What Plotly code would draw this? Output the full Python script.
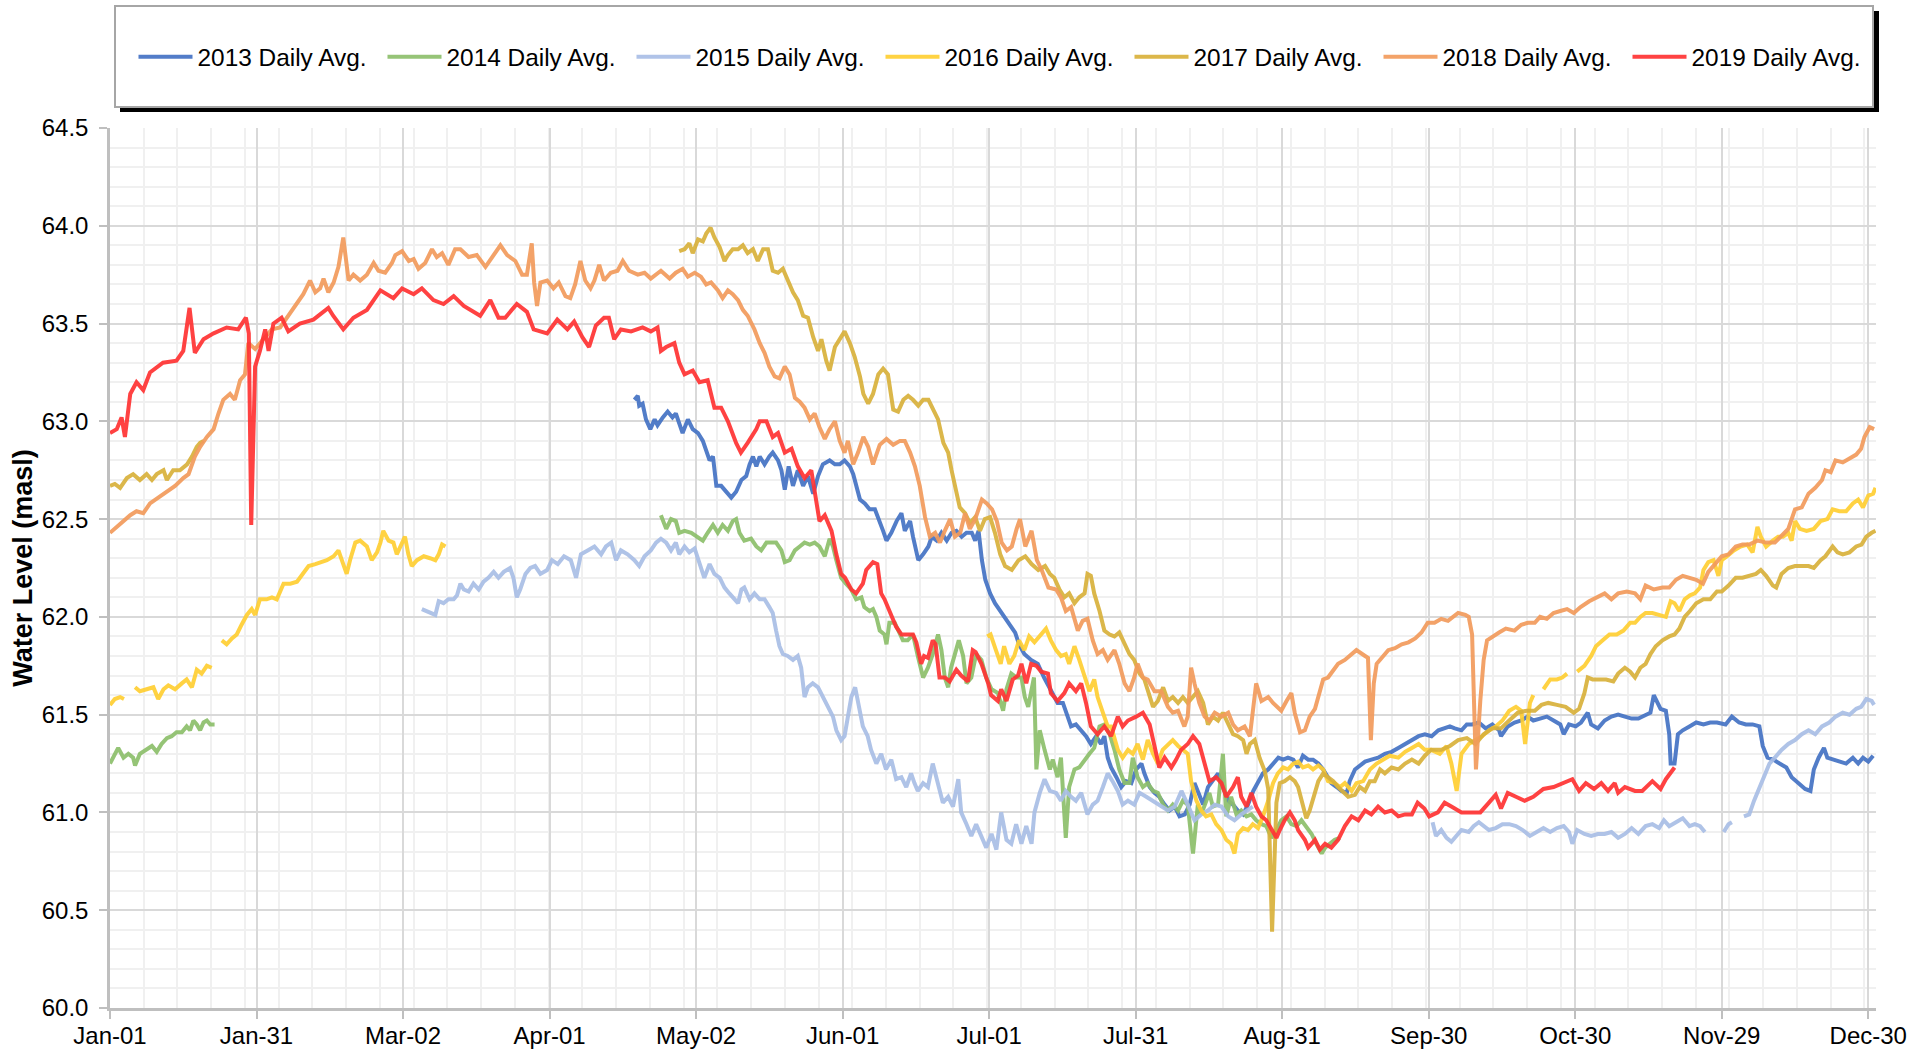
import plotly.graph_objects as go

# ---------------------------------------------------------------
# Daily average water level (masl) by day of year, one series per year.
# Day 0 = Jan-01. A None level marks a gap in the record.
# ---------------------------------------------------------------
YEARS = ["2013", "2014", "2015", "2016", "2017", "2018", "2019"]
COLORS = ["#4472C4", "#8DBF6B", "#A9BEE6", "#FFCF33", "#D9B13B", "#F29B5C", "#FF3333"]

DAY_2013 = [108.8, 109.5, 109.8, 110.5, 111.2, 112.1, 113, 113.6, 114.7, 115.7,
            116.7, 117.4, 118.1, 118.8, 119.9, 120.9, 122, 123, 123.7, 124.4,
            125.1, 125.8, 126.8, 127.8, 128.9, 129.9, 131, 132, 132.7, 133.4,
            134.1, 134.8, 135.8, 136.8, 137.5, 138.6, 139.3, 140, 140.8, 141.7,
            142.7, 143.8, 144.8, 145.9, 146.9, 147.9, 149.3, 150.4, 151.4, 152.4,
            153.5, 154.2, 154.9, 155.6, 156.6, 157.6, 158.7, 159.7, 160.4, 161.1,
            162.1, 163.2, 164.2, 164.9, 166, 166.6, 167.7, 168.7, 169.8, 170.5,
            171.5, 172.5, 173.6, 174.6, 175.6, 176.7, 177.7, 178.8, 179.5, 180.2,
            180.9, 181.6, 182.6, 183.6, 184.7, 185.7, 186.7, 187.8, 188.6, 189.7,
            191.1, 192.5, 193.8, 195.2, 196.6, 197.7, 198.7, 199.4, 200.4, 201.5,
            202.5, 203.5, 204.6, 205.6, 206.3, 207, 207.7, 208.8, 209.8, 210.8,
            211.9, 212.9, 214, 214.6, 215.7, 216.7, 217.7, 218.8, 219.8, 220.9,
            221.9, 223, 224, 225, 225.7, 226.8, 227.8, 228.8, 229.9, 230.9,
            232, 233, 234, 235.1, 236.1, 237.2, 238.2, 239.2, 240.3, 241.3,
            242.4, 243.4, 244.4, 245.5, 246.5, 247.5, 248.6, 249.6, 250.7, 251.7,
            252.7, 253.4, 254.5, 255.5, 256.6, 257.2, 258.3, 259.3, 260.4, 261.7,
            263.1, 264.5, 265.9, 267.3, 268.7, 270.1, 271.5, 272.8, 274.2, 275.6,
            277, 278, 279, 280.4, 281.5, 282.6, 284, 285.4, 286.8, 288.2,
            288.6, 290, 291.4, 292.8, 294.1, 295.3, 296.7, 298.1, 299.5, 300.9,
            301.6, 302.7, 304.1, 305.2, 306.6, 307.3, 308.7, 310.1, 311.5, 312.9,
            314.3, 315.7, 317.1, 318.6, 319.6, 320.3, 321, 321.7, 322.8, 323.5,
            323.8, 324.6, 325.3, 326.3, 327.7, 329.1, 330.6, 332, 333.4, 335.2,
            336.5, 338, 339.4, 340.8, 342.2, 342.9, 343.9, 345.1, 346.4, 347.8,
            348.9, 350.3, 351.7, 352.8, 353.5, 354.5, 355.6, 356.3, 357.4, 358.8,
            360.2, 361.6, 362.7, 363.7, 364.8, 365.8]
LEVEL_2013 = [63.11, 63.13, 63.08, 63.09, 63.01, 62.96, 63.01, 62.98, 63.02, 63.05,
              63.02, 63.04, 62.99, 62.94, 63.01, 62.96, 62.94, 62.90, 62.85, 62.80,
              62.82, 62.67, 62.67, 62.64, 62.61, 62.64, 62.70, 62.72, 62.78, 62.82,
              62.77, 62.82, 62.78, 62.82, 62.84, 62.80, 62.75, 62.65, 62.77, 62.67,
              62.75, 62.67, 62.72, 62.63, 62.72, 62.78, 62.80, 62.78, 62.78, 62.80,
              62.77, 62.73, 62.67, 62.60, 62.58, 62.55, 62.55, 62.49, 62.44, 62.39,
              62.43, 62.49, 62.53, 62.44, 62.49, 62.41, 62.29, 62.32, 62.36, 62.41,
              62.39, 62.43, 62.39, 62.43, 62.44, 62.41, 62.43, 62.43, 62.39, 62.44,
              62.29, 62.19, 62.12, 62.07, 62.03, 62.00, 61.96, 61.92, 61.86, 61.81,
              61.78, 61.76, 61.69, 61.62, 61.56, 61.56, 61.49, 61.44, 61.45, 61.42,
              61.39, 61.35, 61.39, 61.35, 61.39, 61.28, 61.23, 61.18, 61.13, 61.16,
              61.15, 61.22, 61.25, 61.20, 61.13, 61.10, 61.08, 61.04, 61.01, 61.03,
              60.98, 60.99, 61.04, 61.15, 61.11, 61.04, 61.13, 61.16, 61.20, 61.13,
              61.06, 61.04, 61.01, 60.99, 61.04, 61.11, 61.16, 61.20, 61.22, 61.25,
              61.28, 61.27, 61.28, 61.27, 61.23, 61.29, 61.27, 61.27, 61.25, 61.22,
              61.18, 61.15, 61.13, 61.11, 61.10, 61.16, 61.22, 61.24, 61.26, 61.27,
              61.28, 61.30, 61.31, 61.33, 61.35, 61.37, 61.39, 61.40, 61.39, 61.42,
              61.43, 61.44, 61.43, 61.42, 61.45, 61.45, 61.46, 61.43, 61.45, 61.42,
              61.39, 61.44, 61.46, 61.47, 61.49, 61.47, 61.48, 61.49, 61.47, 61.45,
              61.40, 61.45, 61.44, 61.46, 61.51, 61.45, 61.43, 61.47, 61.49, 61.50,
              61.49, 61.48, 61.48, 61.50, 61.51, 61.60, 61.57, 61.53, 61.52, 61.40,
              61.25, 61.25, 61.40, 61.42, 61.44, 61.46, 61.45, 61.46, 61.46, 61.45,
              61.49, 61.46, 61.45, 61.45, 61.44, 61.34, 61.28, 61.27, 61.25, 61.23,
              61.18, 61.15, 61.12, 61.11, 61.22, 61.28, 61.33, 61.28, 61.27, 61.26,
              61.25, 61.28, 61.25, 61.28, 61.26, 61.29]

DAY_2014 = [0, 1, 1.7, 2.8, 3.8, 4.8, 5.2, 6.2, 7.6, 8.7,
            9.7, 10.7, 11.8, 12.8, 13.8, 14.9, 15.9, 16.6, 17.3, 18,
            18.7, 19.4, 20.1, 20.8, 21.7, 60,
            114.3, 115.4, 116.4, 117.4, 118.1, 119.2, 120.6, 122, 123, 124,
            125.1, 126.1, 127.1, 128.2, 129.2, 129.9, 130.6, 131.6, 133, 134.1,
            135.1, 136.2, 137.2, 138.2, 139.3, 140, 141, 142.1, 143.1, 144.1,
            145.2, 146.2, 147.2, 148.3, 149.3, 150, 150.7, 151.7, 152.7, 153.8,
            154.8, 155.9, 156.5, 157.6, 158.3, 159, 159.7, 160.7, 161.1, 161.7,
            162.8, 163.5, 164.5, 165.5, 166.6, 167.6, 168.7, 169.7, 170.7, 171.8,
            172.5, 173.2, 173.9, 174.5, 175.4, 176.1, 177, 177.7, 178.7, 179.7,
            180.8, 181.8, 182.9, 184.2, 185.3, 186, 187, 188.1, 189.1, 189.8,
            190.5, 191.2, 191.7, 192.2, 192.9, 193.9, 195, 195.6, 196.6, 197.3,
            198.3, 199, 200.1, 201.1, 202.2, 203.2, 204.2, 205.3, 206.3, 207.4,
            208.4, 209.4, 210.5, 211.5, 212.2, 213.2, 214.3, 215.3, 216.4, 217.4,
            218.5, 219.5, 220.5, 221.6, 222.6, 223.6, 224.7, 225.7, 226.4, 227.1,
            228.1, 228.8, 229.9, 230.9, 231.6, 232.6, 233.7, 234.7, 235.8, 236.8,
            237.8, 238.9, 239.9, 241, 242, 243, 244.1, 245.1, 246.2, 247.2,
            248.2, 249.3, 250.3, 251.4, 252.1, 253.1, 254.1, 255.2]
LEVEL_2014 = [61.25, 61.30, 61.33, 61.28, 61.30, 61.28, 61.24, 61.30, 61.32, 61.34,
              61.31, 61.35, 61.38, 61.39, 61.41, 61.41, 61.44, 61.42, 61.47, 61.45,
              61.42, 61.46, 61.47, 61.45, 61.45, None,
              62.52, 62.45, 62.50, 62.49, 62.43, 62.44, 62.43, 62.41, 62.39, 62.43,
              62.47, 62.43, 62.47, 62.44, 62.49, 62.50, 62.43, 62.39, 62.40, 62.36,
              62.34, 62.38, 62.38, 62.38, 62.34, 62.28, 62.29, 62.34, 62.36, 62.38,
              62.37, 62.38, 62.36, 62.31, 62.40, 62.36, 62.29, 62.20, 62.17, 62.14,
              62.09, 62.10, 62.05, 62.03, 62.04, 62.00, 61.93, 61.91, 61.86, 61.97,
              61.97, 61.93, 61.88, 61.88, 61.91, 61.80, 61.69, 61.74, 61.81, 61.91,
              61.83, 61.69, 61.64, 61.74, 61.83, 61.88, 61.80, 61.66, 61.69, 61.81,
              61.78, 61.69, 61.63, 61.61, 61.52, 61.63, 61.71, 61.69, 61.69, 61.59,
              61.54, 61.63, 61.69, 61.22, 61.42, 61.32, 61.22, 61.27, 61.18, 61.28,
              60.87, 61.13, 61.22, 61.23, 61.27, 61.30, 61.33, 61.44, 61.45, 61.40,
              61.32, 61.22, 61.15, 61.15, 61.28, 61.18, 61.13, 61.15, 61.11, 61.10,
              61.04, 61.01, 61.04, 61.01, 61.06, 61.04, 60.79, 61.04, 60.99, 61.03,
              61.10, 61.03, 61.04, 61.30, 60.98, 61.08, 60.99, 61.01, 60.98, 60.99,
              60.96, 60.94, 60.93, 60.87, 60.91, 60.96, 60.98, 60.94, 60.93, 60.96,
              60.93, 60.89, 60.84, 60.79, 60.82, 60.84, 60.86, 60.87]

DAY_2015 = [64.7, 65.7, 66.8, 67.5, 68.2, 69.2, 70.2, 71.3, 72, 72.7,
            73.4, 74.4, 75.4, 76.5, 77.5, 78.5, 79.6, 80.6, 81.7, 83,
            83.7, 84.4, 85.1, 86.2, 87.2, 88.2, 89.3, 90.7, 91.7, 92.9,
            94.2, 95.6, 96.7, 97.7, 99.1, 100.5, 101.9, 102.9, 104, 105,
            106, 107.4, 108.8, 109.8, 110.9, 112.2, 113.3, 114.3, 115.4, 116.4,
            117.4, 118.1, 119.2, 120.2, 121.3, 122.3, 123.3, 124.4, 125.4, 126.5,
            127.5, 128.5, 129.6, 130.3, 131, 131.6, 132.7, 133.7, 134.8, 135.8,
            136.8, 137.5, 138.2, 138.9, 139.6, 140.6, 141.7, 142.7, 143.4, 144.1,
            144.8, 145.8, 146.9, 147.9, 148.9, 150, 150.7, 151.7, 152.4, 153.1,
            153.8, 154.6, 155.5, 156.2, 157.2, 157.9, 159, 160, 161, 162.1,
            163.1, 164.2, 165.2, 166.2, 166.9, 167.6, 168.7, 169.7, 170.7, 171.8,
            172.8, 173.9, 174.9, 176, 176.6, 177.7, 178.7, 179.7, 180.8, 181.8,
            182.9, 183.9, 184.9, 186, 187, 188, 189.1, 190.1, 191.2, 191.8,
            192.9, 193.9, 195, 196.3, 197.3, 198.3, 199.4, 200.4, 201.5, 202.8,
            203.9, 204.9, 206, 207, 208, 209.1, 210.1, 211.2, 212.5, 213.6,
            215, 217.4, 219.5, 220.9, 222.3, 223.6, 225, 226.4, 227.8, 229.2,
            230.6, 232, 233.3, 234.7, 236.1, 237.1, 255,
            274.4, 275.1, 276.2, 277.3, 278.3, 279.4, 280.4, 281.9, 282.9, 284,
            285, 286.1, 287.5, 288.9, 290.3, 291.7, 293.1, 294.6, 296, 297.4,
            298.8, 300.2, 301.6, 302.7, 303.4, 304.4, 305.9, 307.3, 308.7, 310.1,
            311.5, 312.9, 314.3, 315.7, 317.1, 318.6, 320, 321.4, 322.4, 323.5,
            324.9, 326.3, 327.7, 328.8, 329.9, 330.9, 332.8,
            334.8, 335.8, 336.5, 337.8,
            339, 340.1, 341.1, 342.2, 343.3, 344.3, 345.4, 346.8, 348.2, 349.6,
            351, 352.4, 353.8, 355.2, 356.7, 358, 359.5, 360.9, 362.3, 363.3,
            364.4, 365.5, 366]
LEVEL_2015 = [62.04, 62.03, 62.02, 62.01, 62.08, 62.07, 62.09, 62.09, 62.11, 62.17,
              62.14, 62.13, 62.17, 62.14, 62.18, 62.20, 62.23, 62.20, 62.23, 62.25,
              62.20, 62.10, 62.14, 62.22, 62.25, 62.26, 62.22, 62.24, 62.29, 62.27,
              62.31, 62.29, 62.20, 62.32, 62.34, 62.36, 62.32, 62.36, 62.38, 62.29,
              62.34, 62.32, 62.29, 62.26, 62.31, 62.34, 62.38, 62.40, 62.38, 62.34,
              62.38, 62.32, 62.36, 62.33, 62.35, 62.27, 62.20, 62.27, 62.22, 62.20,
              62.15, 62.12, 62.09, 62.07, 62.14, 62.15, 62.09, 62.12, 62.09, 62.09,
              62.05, 62.02, 61.93, 61.85, 61.81, 61.80, 61.78, 61.80, 61.74, 61.59,
              61.64, 61.66, 61.64, 61.59, 61.54, 61.49, 61.42, 61.37, 61.39, 61.49,
              61.59, 61.64, 61.52, 61.44, 61.39, 61.32, 61.25, 61.30, 61.22, 61.27,
              61.17, 61.18, 61.13, 61.20, 61.15, 61.11, 61.15, 61.13, 61.25, 61.15,
              61.05, 61.08, 61.03, 61.17, 61.00, 60.94, 60.88, 60.94, 60.88, 60.82,
              60.89, 60.81, 61.00, 60.86, 60.84, 60.94, 60.84, 60.93, 60.84, 61.00,
              61.10, 61.17, 61.11, 61.10, 61.06, 61.11, 61.08, 61.06, 61.10, 60.99,
              61.04, 61.06, 61.13, 61.20, 61.16, 61.11, 61.04, 61.06, 61.04, 61.10,
              61.08, 61.04, 61.01, 61.03, 61.11, 61.04, 60.96, 60.99, 61.01, 61.04,
              61.03, 60.98, 60.96, 60.99, 61.01, 61.03, None,
              60.95, 60.88, 60.91, 60.87, 60.85, 60.88, 60.91, 60.90, 60.93, 60.95,
              60.93, 60.91, 60.92, 60.94, 60.94, 60.93, 60.91, 60.88, 60.90, 60.92,
              60.90, 60.92, 60.93, 60.90, 60.84, 60.91, 60.89, 60.88, 60.89, 60.89,
              60.90, 60.87, 60.89, 60.92, 60.89, 60.93, 60.94, 60.92, 60.96, 60.93,
              60.95, 60.97, 60.93, 60.94, 60.93, 60.90, None,
              60.90, 60.94, 60.95, None,
              60.98, 60.99, 61.06, 61.13, 61.20, 61.25, 61.28, 61.32, 61.35, 61.37,
              61.40, 61.42, 61.40, 61.44, 61.46, 61.49, 61.51, 61.50, 61.53, 61.54,
              61.58, 61.57, 61.55]

DAY_2016 = [0, 1, 2.1, 2.9, 4, 5.2, 6.2, 7.6, 9, 10,
            11.1, 12.1, 13.5, 14.9, 15.9, 17, 18, 19, 20.1, 21.1,
            22, 23.2, 24.2, 25.3, 26.3, 27.3, 28.4, 29.4, 30.1, 31.1,
            32.5, 33.6, 34.6, 36, 37.4, 38.8, 40.1, 41.2, 42.6, 43.9,
            45, 46.4, 47.4, 48.1, 49.1, 49.8, 50.9, 51.9, 53.3, 54.3,
            55.4, 56.1, 56.7, 57.8, 58.8, 59.5, 60.6, 61.2, 61.9, 62.6,
            63.7, 65.1, 66.4, 67.5, 68.2, 68.9, 69.6, 120,
            182, 182.7, 183.8, 184.8, 185.5, 186.6, 187.6, 188.6, 189.7, 190.7,
            191.8, 192.8, 194.2, 195.2, 196.3, 197.3, 198.3, 199, 200.1, 201.1,
            202.2, 203.2, 204.2, 204.9, 206, 207, 207.7, 208.4, 209.1, 210.1,
            211.2, 212.2, 213.2, 214.3, 215.3, 216.4, 217.4, 218.4, 219.5, 220.5,
            221.6, 222.6, 223.6, 224.3, 225.4, 226.4, 227.4, 228.5, 229.5, 230.6,
            231.6, 232.6, 233.3, 234, 235.1, 236.1, 237.1, 238.2, 239.2, 240.3,
            241.3, 242.3, 243.4, 244.4, 245.5, 246.5, 247.5, 248.6, 249.6, 250.7,
            251.7, 252.7, 254.1, 255.2, 256.2, 257.6, 258.6, 260, 261.4, 262.8,
            264.2, 265.5, 267.3, 268.7, 270.1, 271.5, 272.8, 274.1, 275.9, 277.3,
            278.3, 279.4, 280.4, 281.9, 283.3, 284.7, 286.1, 287.5, 288.9, 290.3,
            291.7, 292.8, 293.6, 294.6, 295.3, 296.3, 297.4, 298.8, 300.2, 301.3,
            302.3, 303.3, 304.4, 305.9, 307.3, 308.3, 309.7, 311.1, 312.6, 314,
            315.4, 316.4, 317.5, 318.6, 320, 321.4, 322.8, 323.8, 324.6, 325.6,
            326.7, 327.8, 328.8, 329.9, 330.6, 331.6, 332.7, 333.7, 334.4, 335.5,
            336.9, 338.3, 339.7, 340.8, 341.5, 341.8, 342.5, 343.6, 345, 346.1,
            347.1, 348.2, 348.9, 349.6, 350.6, 352, 353.5, 354.9, 356.3, 357.4,
            358.8, 360.2, 361.6, 362.7, 363.7, 364.8, 365.8, 366.3]
LEVEL_2016 = [61.55, 61.58, 61.59, 61.58, None, 61.64, 61.62, 61.63, 61.64, 61.58,
              61.63, 61.65, 61.63, 61.66, 61.68, 61.64, 61.73, 61.71, 61.75, 61.74,
              None, 61.88, 61.86, 61.89, 61.91, 61.96, 62.01, 62.04, 62.01, 62.09,
              62.09, 62.10, 62.09, 62.17, 62.17, 62.18, 62.22, 62.26, 62.27, 62.28,
              62.29, 62.31, 62.34, 62.29, 62.22, 62.29, 62.38, 62.39, 62.36, 62.29,
              62.33, 62.38, 62.44, 62.39, 62.38, 62.32, 62.38, 62.41, 62.32, 62.26,
              62.29, 62.31, 62.30, 62.29, 62.32, 62.37, 62.36, None,
              61.90, 61.91, 61.83, 61.76, 61.85, 61.76, 61.80, 61.88, 61.83, 61.90,
              61.87, 61.90, 61.94, 61.88, 61.83, 61.80, 61.81, 61.76, 61.85, 61.78,
              61.69, 61.62, 61.68, 61.59, 61.51, 61.44, 61.44, 61.37, 61.32, 61.28,
              61.32, 61.30, 61.35, 61.27, 61.37, 61.30, 61.25, 61.32, 61.35, 61.37,
              61.34, 61.32, 61.30, 61.16, 61.06, 61.01, 60.98, 60.99, 60.94, 60.91,
              60.86, 60.84, 60.79, 60.89, 60.92, 60.91, 60.94, 60.92, 60.98, 61.06,
              61.15, 61.20, 61.23, 61.22, 61.25, 61.26, 61.23, 61.24, 61.22, 61.24,
              61.22, 61.16, 61.15, 61.13, 61.15, 61.11, 61.15, 61.16, 61.22, 61.25,
              61.27, 61.29, 61.28, 61.31, 61.33, 61.35, 61.32, 61.32, 61.30, 61.34,
              61.25, 61.11, 61.30, 61.35, 61.37, 61.39, 61.42, 61.44, 61.47, 61.52,
              61.54, 61.52, 61.35, 61.56, 61.60, None, 61.63, 61.68, 61.68, 61.69,
              61.71, None, 61.72, 61.75, 61.80, 61.85, 61.88, 61.91, 61.91, 61.93,
              61.97, 61.97, 62.00, 62.02, 62.02, 62.01, 62.00, 62.08, 62.07, 62.03,
              62.09, 62.11, 62.12, 62.15, 62.24, 62.28, 62.29, 62.21, 62.29, 62.31,
              62.34, 62.36, 62.37, 62.33, 62.43, 62.46, 62.41, 62.36, 62.39, 62.41,
              62.41, 62.43, 62.39, 62.49, 62.45, 62.44, 62.45, 62.49, 62.50, 62.55,
              62.54, 62.54, 62.58, 62.60, 62.56, 62.62, 62.63, 62.66]

DAY_2017 = [0, 1, 2.1, 3.5, 4.8, 6.2, 7.6, 8.7, 9.7, 11.1,
            11.8, 13.1, 14.5, 16, 17, 18, 18.7, 19.4, 60,
            118.1, 119.2, 120.2, 120.9, 122, 123, 123.7, 124.6, 125.4, 126.5,
            127.5, 128.2, 129.2, 130.3, 131.3, 132.3, 133.4, 134.4, 135.5, 136.5,
            137.5, 138.6, 139.6, 140.7, 141.7, 142.7, 143.8, 144.8, 145.9, 146.9,
            147.6, 148.6, 149.3, 150.4, 151.4, 152.4, 153.5, 154.5, 155.6, 156.3,
            157.3, 158.3, 159.4, 160.4, 161.4, 162.5, 163.5, 164.6, 165.6, 166.6,
            167.7, 168.7, 169.8, 170.8, 171.8, 172.9, 173.9, 174.6, 175.3, 176.3,
            177.4, 178.4, 179.5, 180.5, 181.5, 182.6, 183.6, 184.7, 185.7, 187.1,
            188.5, 189.9, 191.2, 192.6, 194, 195, 195.9, 197, 198, 199,
            200.1, 201.1, 202.2, 202.8, 203.5, 204.2, 205.3, 206.3, 207.4, 208.4,
            209.4, 210.5, 211.5, 212.5, 213.6, 214.6, 215.7, 216.4, 217.4, 218.5,
            219.5, 220.5, 221.6, 222.6, 223.6, 224.7, 225.7, 226.8, 227.8, 228.8,
            229.9, 230.9, 232, 233, 234, 235.1, 235.8, 236.5, 237.5, 238.5,
            239.6, 240.3, 241.1, 242, 242.7, 243.7, 244.8, 245.8, 246.5, 247.5,
            248.2, 248.9, 250, 250.7, 251.7, 252.7, 253.8, 254.8, 255.9, 256.9,
            258.3, 259.3, 260.4, 261.4, 262.4, 263.5, 264.5, 265.9, 267.3, 268.7,
            270.1, 271.5, 272.8, 274.1, 276.2, 278, 279.7, 281.5, 283.3, 285,
            286.8, 288.6, 290.3, 292.1, 293.9, 295.6, 297, 298.4, 300.2, 302,
            303.7, 304.8, 305.9, 306.6, 307.6, 309, 310.4, 311.9, 312.9, 314.3,
            315.4, 316.4, 317.5, 318.6, 319.6, 320.7, 322.1, 323.5, 324.6, 325.6,
            326.7, 327.8, 329.1, 330.6, 332, 333.4, 334.4, 335.8, 337.3, 338.7,
            340.1, 341.5, 342.5, 343.6, 345, 345.7, 346.8, 348.2, 349.6, 351,
            352.4, 353.5, 354.9, 355.9, 357.4, 358.4, 359.5, 360.9, 362.3, 363.4,
            364.4, 365.5, 366.3]
LEVEL_2017 = [62.67, 62.68, 62.66, 62.71, 62.73, 62.70, 62.73, 62.70, 62.73, 62.75,
              62.70, 62.75, 62.75, 62.78, 62.82, 62.87, 62.89, 62.90, None,
              63.87, 63.88, 63.91, 63.86, 63.93, 63.92, 63.96, 63.99, 63.94, 63.89,
              63.82, 63.85, 63.88, 63.88, 63.90, 63.86, 63.88, 63.82, 63.88, 63.88,
              63.77, 63.76, 63.78, 63.71, 63.66, 63.62, 63.54, 63.53, 63.43, 63.36,
              63.42, 63.31, 63.26, 63.38, 63.42, 63.46, 63.40, 63.33, 63.23, 63.14,
              63.09, 63.14, 63.24, 63.27, 63.24, 63.06, 63.05, 63.11, 63.13, 63.11,
              63.08, 63.11, 63.11, 63.06, 63.01, 62.89, 62.84, 62.75, 62.67, 62.56,
              62.53, 62.48, 62.51, 62.44, 62.50, 62.51, 62.43, 62.32, 62.26, 62.24,
              62.29, 62.31, 62.27, 62.24, 62.26, 62.22, 62.20, 62.14, 62.10, 62.12,
              62.07, 62.10, 62.12, 62.22, 62.21, 62.12, 62.03, 61.93, 61.91, 61.90,
              61.92, 61.86, 61.81, 61.78, 61.71, 61.68, 61.59, 61.54, 61.57, 61.64,
              61.57, 61.59, 61.56, 61.59, 61.56, 61.59, 61.62, 61.56, 61.45, 61.49,
              61.47, 61.51, 61.45, 61.40, 61.39, 61.37, 61.30, 61.35, 61.37, 61.28,
              61.21, 61.12, 60.39, 61.05, 61.15, 61.16, 61.18, 61.16, 61.13, 61.04,
              60.97, 61.01, 61.10, 61.16, 61.20, 61.18, 61.16, 61.13, 61.10, 61.08,
              61.09, 61.13, 61.11, 61.16, 61.16, 61.22, 61.20, 61.23, 61.22, 61.25,
              61.27, 61.25, 61.29, 61.32, 61.32, 61.34, 61.37, 61.38, 61.35, 61.40,
              61.43, 61.43, 61.47, 61.51, 61.52, 61.52, 61.55, 61.56, 61.55, 61.54,
              61.51, 61.53, 61.61, 61.69, 61.68, 61.68, 61.68, 61.67, 61.71, 61.74,
              61.72, 61.69, 61.74, 61.76, 61.81, 61.85, 61.88, 61.90, 61.91, 61.94,
              62.00, 62.03, 62.07, 62.09, 62.09, 62.13, 62.13, 62.16, 62.20, 62.20,
              62.21, 62.22, 62.24, 62.21, 62.16, 62.15, 62.22, 62.25, 62.26, 62.26,
              62.26, 62.25, 62.29, 62.31, 62.36, 62.33, 62.32, 62.33, 62.36, 62.37,
              62.41, 62.43, 62.44]

DAY_2018 = [0, 1.4, 2.8, 4.2, 5.5, 6.9, 8.3, 10, 11.8, 13.5,
            15.2, 16.3, 17.6, 18.7, 20.1, 21.5, 22.5, 23.5, 24.9, 25.9,
            27, 28, 28.7, 30.1, 31.8, 33.6, 35.3, 37, 38.8, 40.1,
            41.5, 42.6, 43.6, 44.3, 45.3, 46.4, 47.4, 48.4, 49.5, 50.5,
            51.9, 53.3, 54.7, 55.7, 57.1, 58.5, 59.2, 60.6, 62, 63,
            64, 65.4, 66.8, 67.8, 68.9, 70.2, 71.6, 72.7, 74.4, 76.1,
            77.9, 79.6, 81, 82.4, 84.1, 85.5, 86.5, 87.5, 88, 88.6,
            89.3, 90.7, 92, 93.1, 94.5, 95.5, 96.5, 97.6, 98.6, 99.7,
            100.5, 101.5, 102.5, 103.9, 105.3, 106.4, 107.7, 109.5, 110.9, 112.2,
            114.3, 116.1, 117.4, 118.8, 119.9, 121.3, 122.6, 123.7, 124.7, 126.1,
            127.1, 128.2, 129.2, 130.3, 131.3, 132.3, 133.7, 134.8, 135.8, 136.8,
            137.9, 138.9, 140, 141, 142.1, 143.1, 144.1, 145.2, 146.2, 147.2,
            148.3, 149.3, 150.4, 151.4, 152.4, 153.1, 154.2, 155.2, 156.3, 157.3,
            158.3, 159.7, 161.1, 162.5, 163.9, 164.9, 166, 167, 168, 169.1,
            170.1, 171.2, 172.2, 173.2, 174.3, 175.3, 176.4, 177.4, 178.4, 179.5,
            180.9, 181.9, 183, 184, 185, 186.1, 187.1, 188.1, 188.8, 189.9,
            191.2, 192.3, 193.3, 194.7, 196.3, 197.3, 198.3, 199.4, 200.8, 201.8,
            202.8, 203.9, 204.9, 206, 207, 208.4, 209.4, 210.5, 211.5, 212.5,
            213.2, 214.3, 215.3, 216.7, 218.1, 219.5, 220.5, 221.6, 222.9, 223.6,
            224.3, 225, 226, 227.1, 228.1, 229.2, 230.6, 232, 233, 234,
            235.4, 236.5, 237.2, 237.8, 238.9, 240.3, 241.3, 243, 244.1, 245.1,
            245.8, 246.9, 247.9, 248.9, 250, 251, 251.7, 252.7, 253.8, 254.8,
            256.2, 257.6, 258.6, 260.4, 261, 261.6, 262.2, 262.8, 263.8, 265.2,
            266.6, 268, 269.4, 270.8, 272.1, 273.4, 274.8, 276.2, 277.6, 279,
            279.7, 281.2, 281.9, 282.6, 283.4, 284.3, 285, 285.7, 286.8, 288.2,
            289.6, 291.4, 292.8, 294.2, 295.6, 296.7, 298.1, 299.5, 300.9, 302.3,
            303.7, 305.1, 306.9, 308.7, 310.1, 311.5, 312.9, 314.7, 316.4, 317.5,
            318.6, 320.3, 322.1, 323.5, 324.9, 326.3, 327.7, 329.1, 330.5, 331.6,
            333, 334.4, 335.8, 337.3, 338.7, 340.1, 341.8, 343.6, 345.4, 347.1,
            348.2, 349.6, 351, 352.4, 353.8, 355.2, 355.9, 357, 358, 359.5,
            360.9, 362.3, 363.3, 364, 365.1, 366]
LEVEL_2018 = [62.43, 62.46, 62.49, 62.52, 62.54, 62.53, 62.58, 62.61, 62.64, 62.67,
              62.71, 62.73, 62.82, 62.87, 62.92, 62.96, 63.04, 63.11, 63.14, 63.11,
              63.21, 63.24, 63.40, 63.37, 63.42, 63.47, 63.48, 63.54, 63.60, 63.65,
              63.72, 63.66, 63.68, 63.73, 63.66, 63.71, 63.79, 63.94, 63.72, 63.75,
              63.72, 63.75, 63.81, 63.77, 63.76, 63.81, 63.85, 63.87, 63.82, 63.83,
              63.78, 63.81, 63.88, 63.84, 63.86, 63.80, 63.88, 63.88, 63.84, 63.85,
              63.79, 63.85, 63.90, 63.85, 63.82, 63.75, 63.75, 63.91, 63.71, 63.59,
              63.71, 63.72, 63.68, 63.71, 63.64, 63.63, 63.70, 63.82, 63.72, 63.68,
              63.72, 63.80, 63.72, 63.76, 63.77, 63.82, 63.77, 63.75, 63.76, 63.73,
              63.77, 63.73, 63.76, 63.78, 63.74, 63.76, 63.74, 63.70, 63.71, 63.67,
              63.63, 63.67, 63.65, 63.62, 63.57, 63.54, 63.47, 63.40, 63.35, 63.28,
              63.23, 63.22, 63.28, 63.24, 63.12, 63.10, 63.07, 63.01, 63.04, 62.97,
              62.91, 62.96, 63.00, 62.90, 62.84, 62.90, 62.78, 62.84, 62.92, 62.87,
              62.78, 62.88, 62.91, 62.88, 62.90, 62.90, 62.84, 62.77, 62.67, 62.51,
              62.41, 62.43, 62.38, 62.44, 62.50, 62.41, 62.43, 62.53, 62.45, 62.50,
              62.60, 62.58, 62.55, 62.49, 62.38, 62.34, 62.36, 62.45, 62.50, 62.36,
              62.44, 62.29, 62.24, 62.15, 62.14, 62.10, 62.03, 62.05, 61.93, 61.98,
              61.99, 61.88, 61.81, 61.83, 61.78, 61.83, 61.76, 61.66, 61.62, 61.69,
              61.76, 61.69, 61.68, 61.62, 61.62, 61.54, 61.51, 61.52, 61.44, 61.49,
              61.74, 61.66, 61.56, 61.49, 61.47, 61.51, 61.49, 61.51, 61.45, 61.42,
              61.44, 61.39, 61.56, 61.66, 61.57, 61.59, 61.56, 61.52, 61.57, 61.61,
              61.51, 61.41, 61.42, 61.49, 61.53, 61.62, 61.68, 61.69, 61.73, 61.76,
              61.78, 61.81, 61.83, 61.80, 61.79, 61.37, 61.66, 61.76, 61.79, 61.83,
              61.84, 61.86, 61.87, 61.89, 61.92, 61.97, 61.97, 61.99, 61.98, 62.01,
              62.02, 62.01, 62.00, 61.91, 61.22, 61.57, 61.78, 61.88, 61.90, 61.92,
              61.94, 61.93, 61.96, 61.97, 61.97, 62.00, 61.99, 62.02, 62.03, 62.04,
              62.02, 62.05, 62.08, 62.10, 62.12, 62.09, 62.12, 62.13, 62.12, 62.09,
              62.16, 62.14, 62.15, 62.15, 62.19, 62.21, 62.20, 62.19, 62.17, 62.23,
              62.27, 62.31, 62.32, 62.36, 62.37, 62.37, 62.39, 62.38, 62.38, 62.42,
              62.45, 62.55, 62.56, 62.63, 62.66, 62.70, 62.75, 62.74, 62.80, 62.79,
              62.81, 62.83, 62.86, 62.92, 62.97, 62.96]

DAY_2019 = [0, 1.4, 2.4, 3.1, 4.2, 5.5, 6.9, 8.3, 11, 13.8,
            15.2, 16.5, 17.6, 19.4, 21.5, 24.2, 26.6, 28.2, 28.8, 29.3,
            30.1, 31.1, 32.2, 32.9, 33.9, 35.6, 37, 39.4, 42.2, 45.3,
            46.3, 48.4, 50.5, 53.3, 56.1, 58.8, 60.6, 63, 64.7, 67.1,
            69.2, 71.3, 73.4, 76.8, 78.9, 80.6, 82, 84.4, 86.5, 87.9,
            90.7, 92.8, 94.9, 96.3, 98, 99.4, 100.8, 102.5, 103.5, 104.6,
            106, 108.1, 110.5, 112.2, 113.6, 114.3, 115.4, 117.1, 118.1, 119.2,
            120.9, 122.3, 124, 125.4, 126.8, 128.2, 129.9, 130.9, 132.3, 134.1,
            134.8, 136.2, 137.5, 138.6, 140, 141.4, 142.7, 144.1, 145.5, 146.5,
            147.2, 148.3, 149.7, 150.7, 151.7, 152.5, 153.8, 154.8, 156.2, 156.9,
            158.3, 159.2, 160, 160.7, 162.1, 163.1, 164.2, 165.5, 166.6, 167.3,
            168.3, 168.9, 169.7, 170.7, 171.3, 172.1, 173.2, 174.2, 175.6, 176.6,
            178, 179, 179.6, 180.8, 182.2, 182.8, 184.2, 184.9, 186, 187.3,
            188.4, 189.1, 190.1, 191.1, 192.2, 193.2, 194.6, 195.2, 196.6, 198,
            199, 200.4, 201.5, 202.5, 203.5, 204.9, 206.3, 207.7, 209.1, 210.1,
            211.2, 212.9, 214.3, 215.7, 216.7, 217.7, 218.8, 220.2, 221.2, 222.2,
            223.6, 224.7, 226, 227.4, 228.1, 229.5, 230.6, 231.6, 233, 234,
            234.7, 235.8, 236.8, 237.8, 238.9, 239.9, 241, 242, 242.7, 243.7,
            244.8, 245.8, 246.5, 247.9, 248.6, 250, 251, 252.1, 253.4, 254.8,
            256.2, 257.6, 259, 260.4, 261.7, 263.1, 264.5, 265.9, 267.3, 268.7,
            270.1, 271.3, 272.7, 273.7, 275.5, 276.9, 278.3, 280.4, 282.6, 284.3,
            286.1, 287.5, 288.6, 290, 291.7, 293.5, 295.3, 297.4, 299.5, 301.6,
            303.4, 304.8, 306.2, 307.9, 309.4, 310.8, 312.2, 312.9, 314.3, 316.4,
            317.9, 320, 321.7, 322.8, 323.8, 324.6]
LEVEL_2019 = [62.94, 62.96, 63.02, 62.92, 63.14, 63.20, 63.16, 63.25, 63.30, 63.31,
              63.36, 63.58, 63.35, 63.42, 63.45, 63.48, 63.47, 63.53, 63.45, 62.47,
              63.28, 63.36, 63.47, 63.36, 63.50, 63.53, 63.46, 63.50, 63.52, 63.58,
              63.54, 63.47, 63.53, 63.57, 63.67, 63.63, 63.68, 63.65, 63.68, 63.62,
              63.60, 63.64, 63.59, 63.54, 63.62, 63.53, 63.53, 63.60, 63.56, 63.47,
              63.45, 63.52, 63.47, 63.51, 63.43, 63.38, 63.49, 63.53, 63.53, 63.42,
              63.47, 63.46, 63.48, 63.46, 63.48, 63.36, 63.38, 63.40, 63.30, 63.24,
              63.26, 63.20, 63.21, 63.07, 63.07, 63.00, 62.89, 62.84, 62.89, 62.96,
              63.00, 63.00, 62.92, 62.94, 62.84, 62.86, 62.77, 62.71, 62.75, 62.60,
              62.49, 62.52, 62.44, 62.32, 62.22, 62.20, 62.14, 62.12, 62.17, 62.24,
              62.28, 62.27, 62.12, 62.09, 62.00, 61.95, 61.91, 61.91, 61.91, 61.87,
              61.76, 61.80, 61.79, 61.88, 61.86, 61.69, 61.69, 61.67, 61.73, 61.70,
              61.67, 61.83, 61.82, 61.76, 61.66, 61.60, 61.57, 61.63, 61.57, 61.68,
              61.70, 61.76, 61.66, 61.76, 61.75, 61.72, 61.71, 61.61, 61.57, 61.61,
              61.66, 61.62, 61.66, 61.56, 61.44, 61.40, 61.44, 61.39, 61.49, 61.44,
              61.47, 61.49, 61.51, 61.45, 61.35, 61.23, 61.28, 61.23, 61.27, 61.32,
              61.35, 61.39, 61.35, 61.23, 61.16, 61.18, 61.15, 61.08, 61.13, 61.18,
              61.08, 61.03, 61.10, 61.03, 60.98, 60.96, 60.91, 60.87, 60.91, 60.96,
              61.00, 60.96, 60.91, 60.86, 60.82, 60.86, 60.81, 60.84, 60.82, 60.86,
              60.93, 60.98, 60.96, 61.01, 60.99, 61.03, 61.00, 61.01, 60.98, 60.99,
              60.99, 61.05, 61.02, 60.98, 61.00, 61.05, 61.03, 61.00, 61.00, 61.00,
              61.05, 61.09, 61.02, 61.10, 61.08, 61.06, 61.08, 61.12, 61.13, 61.15,
              61.17, 61.11, 61.15, 61.12, 61.15, 61.11, 61.15, 61.10, 61.13, 61.11,
              61.11, 61.16, 61.12, 61.17, 61.20, 61.23]

SERIES_DAYS = [DAY_2013, DAY_2014, DAY_2015, DAY_2016, DAY_2017, DAY_2018, DAY_2019]
SERIES_LEVELS = [LEVEL_2013, LEVEL_2014, LEVEL_2015, LEVEL_2016, LEVEL_2017, LEVEL_2018, LEVEL_2019]

# Axis labelling: a major tick every 30.4 days, weekly minor grid
TICK_DAYS = [0, 30.4, 60.8, 91.2, 121.6, 152, 182.4, 212.8, 243.2, 273.6, 304, 334.4, 364.8]
TICK_LABELS = ["Jan-01", "Jan-31", "Mar-02", "Apr-01", "May-02", "Jun-01", "Jul-01",
               "Jul-31", "Aug-31", "Sep-30", "Oct-30", "Nov-29", "Dec-30"]
WEEK_DAYS = list(range(0, 367, 7))

FONT = "Liberation Sans, Arial, sans-serif"
W, H = 1932, 1052
ML, MR, MT, MB = 110, 56, 128, 44
PW, PH = W - ML - MR, H - MT - MB


def px_x(x):
    return (x - ML) / PW


def px_y(y):
    return (H - MB - y) / PH


fig = go.Figure()
for name, days, levels, color in zip(YEARS, SERIES_DAYS, SERIES_LEVELS, COLORS):
    fig.add_trace(go.Scatter(
        x=days, y=levels, mode="lines", name=f"{name} Daily Avg.",
        line=dict(color=color, width=4), opacity=0.92,
        connectgaps=False, hoverinfo="skip",
    ))

# legend frame with a drop shadow
fig.add_shape(type="rect", xref="paper", yref="paper",
              x0=px_x(120), x1=px_x(1879), y0=px_y(112), y1=px_y(11),
              line=dict(width=0), fillcolor="#000000", layer="above")
fig.add_shape(type="rect", xref="paper", yref="paper",
              x0=px_x(115), x1=px_x(1873), y0=px_y(107), y1=px_y(6),
              line=dict(color="#A6A6A6", width=2), fillcolor="#FFFFFF", layer="above")

fig.update_layout(
    width=W, height=H,
    margin=dict(l=ML, r=MR, t=MT, b=MB, autoexpand=False),
    paper_bgcolor="white", plot_bgcolor="white",
    font=dict(family=FONT, size=24, color="#000000"),
    showlegend=True,
    legend=dict(
        orientation="h", x=px_x(133.5), xanchor="left", y=px_y(57), yanchor="middle",
        bgcolor="rgba(0,0,0,0)", borderwidth=0,
        font=dict(family=FONT, size=24.4, color="#000000"),
        itemwidth=54, entrywidth=180, entrywidthmode="pixels",
        traceorder="normal",
    ),
    xaxis=dict(
        range=[0, 366.4], tickmode="array", tickvals=TICK_DAYS, ticktext=TICK_LABELS,
        showgrid=True, gridcolor="#D9D9D9", gridwidth=1.5,
        ticks="outside", ticklen=8, tickwidth=1.5, tickcolor="#BFBFBF",
        showline=True, linecolor="#BFBFBF", linewidth=2.5,
        minor=dict(tickmode="array", tickvals=WEEK_DAYS, showgrid=True,
                   gridcolor="#F0F0F0", gridwidth=1.5, ticks=""),
        tickfont=dict(family=FONT, size=24, color="#000000"),
        ticklabelstandoff=-4, zeroline=False, fixedrange=True,
    ),
    yaxis=dict(
        range=[60, 64.5], tickmode="linear", tick0=60, dtick=0.5, tickformat=".1f",
        showgrid=True, gridcolor="#D9D9D9", gridwidth=1.5,
        ticks="outside", ticklen=8, tickwidth=1.5, tickcolor="#BFBFBF",
        showline=True, linecolor="#BFBFBF", linewidth=2.5,
        minor=dict(dtick=0.1, tick0=60, showgrid=True, gridcolor="#F0F0F0",
                   gridwidth=1.5, ticks=""),
        tickfont=dict(family=FONT, size=24, color="#000000"),
        ticklabelstandoff=6, zeroline=False, fixedrange=True,
        title=dict(text="Water Level (masl)", standoff=2,
                   font=dict(family=FONT, size=27, color="#000000", weight="bold")),
    ),
)

fig.write_html("out.html")
